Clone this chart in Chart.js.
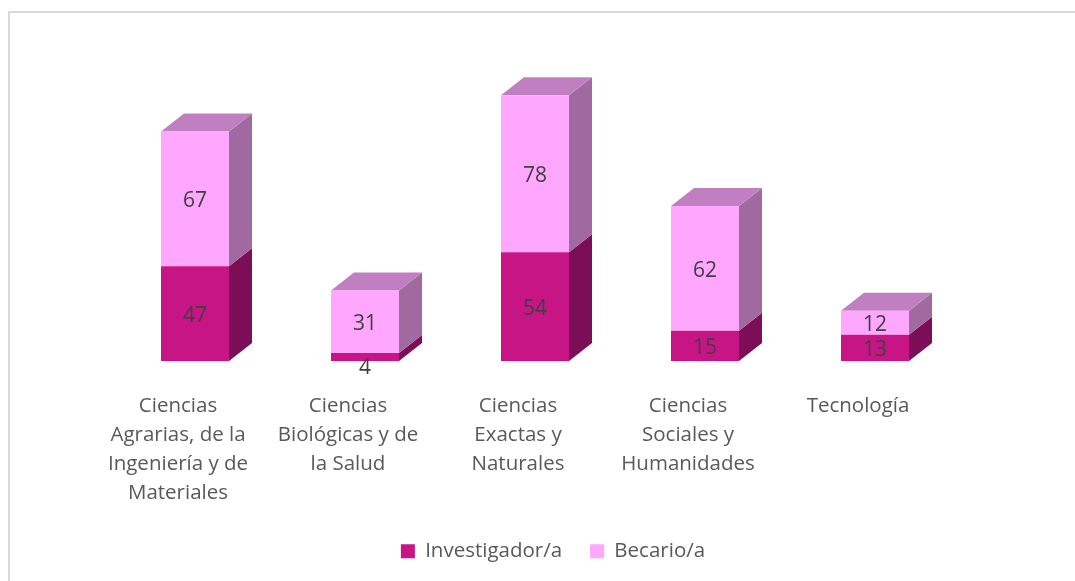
<!DOCTYPE html>
<html><head><meta charset="utf-8">
<style>html,body{margin:0;padding:0;background:#fff;overflow:hidden}
#box{position:absolute;left:8px;top:11px;width:1100px;height:600px;border:2px solid #d9d9d9;box-sizing:border-box}
#wrap{position:absolute;left:0;top:0;width:1075px;height:581px}</style>
<script src="https://cdn.jsdelivr.net/npm/chart.js@4"></script>
</head><body><div id="box"></div><div id="wrap"><canvas id="c" width="1075" height="581"></canvas></div>
<script>
const categories=[["Ciencias","Agrarias, de la","Ingeniería y de","Materiales"],["Ciencias","Biológicas y de","la Salud"],["Ciencias","Exactas y","Naturales"],["Ciencias","Sociales y","Humanidades"],["Tecnología"]];
const investigador=[47,4,54,15,13];
const becario=[67,31,78,62,12];
const FONT='"Open Sans"';
const DEPTH_X=23,DEPTH_Y=18;
function shade(ctx,pts,color){ctx.fillStyle=color;ctx.beginPath();pts.forEach((p,i)=>i?ctx.lineTo(p[0],p[1]):ctx.moveTo(p[0],p[1]));ctx.closePath();ctx.fill();}
const threeD={id:'threeD',afterLayout(chart){
 const lg=chart.legend;const h=lg.height;lg.top=551-10-28;lg.bottom=lg.top+h;lg.left+=36;
},beforeDatasetsDraw(chart){
 const ctx=chart.ctx;const cols=[['#7c0e57','#7c0e57'],['#a0699f','#c07fc0']];
 [0,1].forEach(d=>{chart.getDatasetMeta(d).data.forEach(b=>{
  const r=b.x+b.width/2,l=b.x-b.width/2,t=b.y,bt=b.base;
  shade(ctx,[[r,t],[r+DEPTH_X,t-DEPTH_Y],[r+DEPTH_X,bt-DEPTH_Y],[r,bt]],cols[d][0]);
  if(d===1)shade(ctx,[[l,t],[l+DEPTH_X,t-DEPTH_Y],[r+DEPTH_X,t-DEPTH_Y],[r,t]],cols[d][1]);
 });});
},afterDatasetsDraw(chart){
 const ctx=chart.ctx;ctx.save();ctx.font='21px '+FONT;ctx.fillStyle='#404040';ctx.textAlign='center';ctx.textBaseline='middle';
 chart.data.datasets.forEach((ds,d)=>chart.getDatasetMeta(d).data.forEach((b,i)=>{
  let y=(b.y+b.base)/2+2.5; if(ds.data[i]===4)y=b.base+7;
  ctx.fillText(ds.data[i],b.x,y);
 }));ctx.restore();
}};
new Chart(document.getElementById('c'),{type:'bar',data:{labels:categories,datasets:[
 {label:'Investigador/a',data:investigador,backgroundColor:'#c71585'},
 {label:'Becario/a',data:becario,backgroundColor:'#ffa6ff'}]},
 options:{responsive:false,animation:false,layout:{padding:{left:110,right:115,top:59,bottom:0}},
 scales:{x:{stacked:true,position:'bottom',grid:{display:false},border:{display:false},
   afterFit(s){s.height=581-361-(s.chart.legend?s.chart.legend.height:77);},
   ticks:{color:'#595959',font:{family:FONT,size:20.5,lineHeight:1.415},maxRotation:0,minRotation:0,autoSkip:false,padding:23,labelOffset:-17}},
  y:{stacked:true,min:0,max:150,display:false}},
 datasets:{bar:{categoryPercentage:1,barPercentage:0.4}},
 plugins:{tooltip:{enabled:false},legend:{position:'bottom',labels:{color:'#595959',font:{family:FONT,size:20.5},boxWidth:14,boxHeight:14,padding:28}}}
 },plugins:[threeD]});
</script></body></html>
